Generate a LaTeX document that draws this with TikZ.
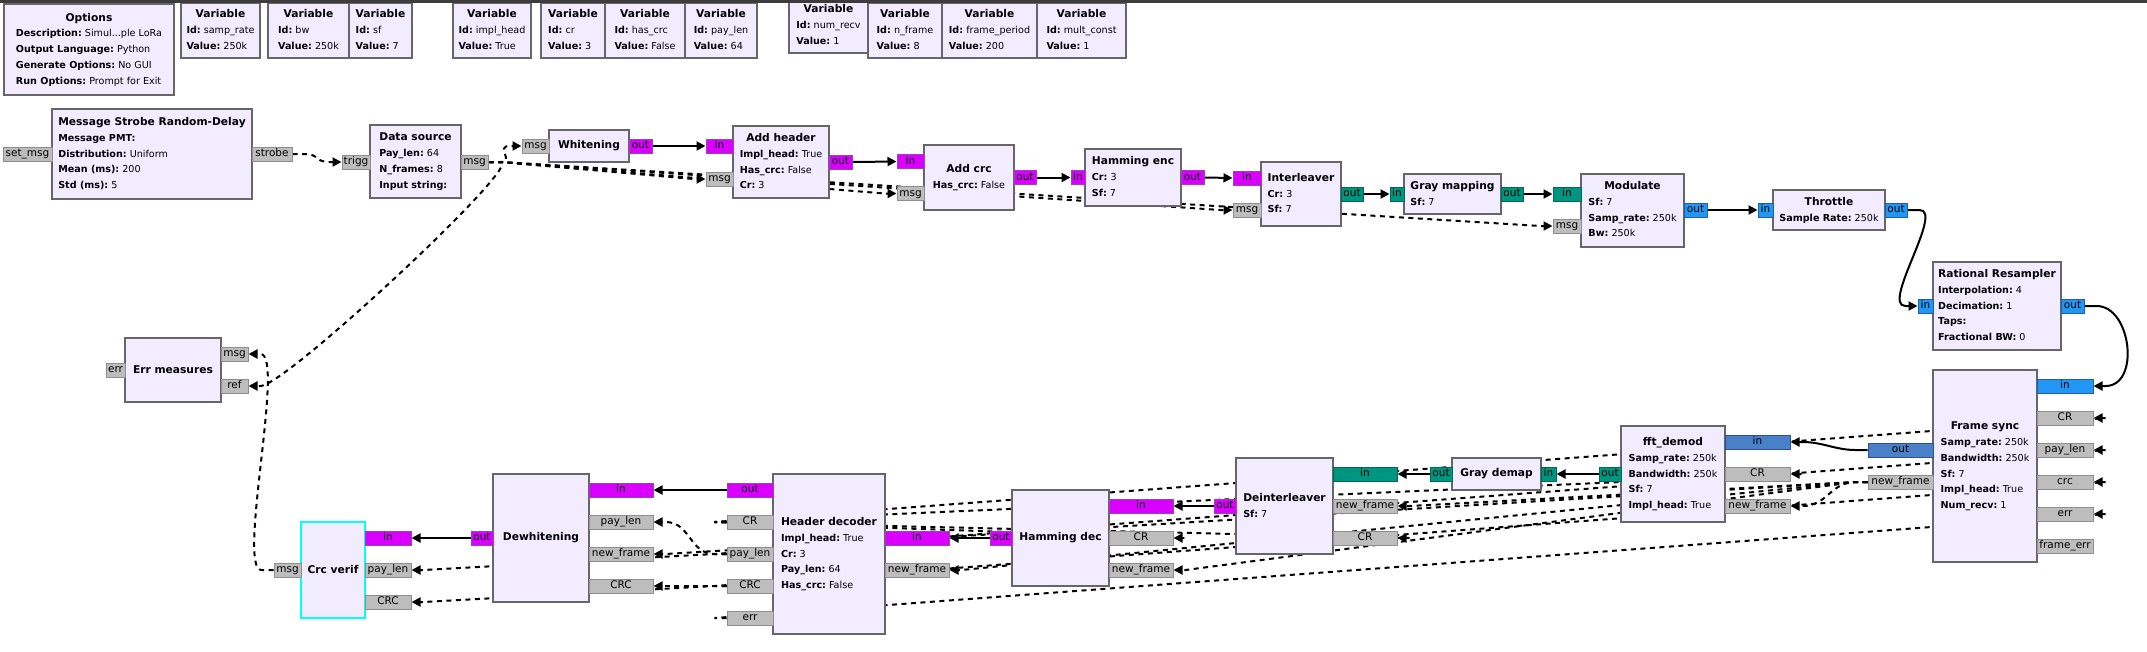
\documentclass[tikz,border=0pt]{standalone}
\usepackage{fontspec}
\setmainfont{DejaVu Sans}
\usetikzlibrary{arrows.meta}
\definecolor{blkfill}{HTML}{F1ECFF}
\definecolor{blkdraw}{HTML}{666666}
\definecolor{selc}{HTML}{00FFFF}
\definecolor{magf}{HTML}{DA00FF}
\definecolor{magd}{HTML}{A040B8}
\definecolor{tealf}{HTML}{00957F}
\definecolor{teald}{HTML}{00695C}
\definecolor{bluef}{HTML}{2196F3}
\definecolor{blued}{HTML}{1E5FA8}
\definecolor{dbluef}{HTML}{4A80C8}
\definecolor{dblued}{HTML}{2A50A0}
\definecolor{grayf}{HTML}{BDBDBD}
\definecolor{grayd}{HTML}{8E8E8E}
\definecolor{topc}{HTML}{3C3C3C}
\pgfdeclarelayer{bg}
\pgfsetlayers{bg,main}
\newcommand\grtl[1]{{\fontsize{10.67}{15.8}\selectfont\bfseries #1}}
\newcommand\grkv[2]{{\bfseries #1:}\ #2}
\newcommand\grlb[2]{\begin{tabular}{@{}l@{}}\multicolumn{1}{@{}c@{}}{\grtl{#1}}#2\end{tabular}}
\tikzset{
  blk/.style={draw=blkdraw, fill=blkfill, line width=2pt, inner sep=0pt, font=\fontsize{9.6}{15.8}\selectfont},
  prt/.style={draw, line width=1pt, inner sep=0pt, minimum height=14pt, text height=7.5pt, text depth=2.2pt, font=\fontsize{10.5}{12}\selectfont},
  pm/.style={prt, fill=magf, draw=magd},
  ptl/.style={prt, fill=tealf, draw=teald},
  pb/.style={prt, fill=bluef, draw=blued},
  pd/.style={prt, fill=dbluef, draw=dblued},
  pg/.style={prt, fill=grayf, draw=grayd},
  sc/.style={line width=2pt, -{Triangle[length=9pt,width=9pt]}},
  mc/.style={sc, dash pattern=on 5pt off 4.5pt},
}
\begin{document}
\begin{tikzpicture}[x=1pt,y=-1pt]
\useasboundingbox (0,0) rectangle (2147,651);
\begin{pgfonlayer}{bg}
\fill[white] (0,0) rectangle (2147,651);
\end{pgfonlayer}

% ---------- top: options and variables ----------
\node[blk, minimum width=170pt, minimum height=91pt] (opt) at (89,49.5) {\grlb{Options}{\\ \grkv{Description}{Simul...ple LoRa}\\ \grkv{Output Language}{Python}\\ \grkv{Generate Options}{No GUI}\\ \grkv{Run Options}{Prompt for Exit}}};
\node[blk, minimum width=79pt, minimum height=55pt] (v1) at (220.5,30.5) {\grlb{Variable}{\\ \grkv{Id}{samp\_rate}\\ \grkv{Value}{250k}}};
\node[blk, minimum width=81pt, minimum height=55pt] (v2) at (308.5,30.5) {\grlb{Variable}{\\ \grkv{Id}{bw}\\ \grkv{Value}{250k}}};
\node[blk, minimum width=63pt, minimum height=55pt] (v3) at (380.5,30.5) {\grlb{Variable}{\\ \grkv{Id}{sf}\\ \grkv{Value}{7}}};
\node[blk, minimum width=78pt, minimum height=55pt] (v4) at (492,30.5) {\grlb{Variable}{\\ \grkv{Id}{impl\_head}\\ \grkv{Value}{True}}};
\node[blk, minimum width=64pt, minimum height=55pt] (v5) at (573,30.5) {\grlb{Variable}{\\ \grkv{Id}{cr}\\ \grkv{Value}{3}}};
\node[blk, minimum width=80pt, minimum height=55pt] (v6) at (645,30.5) {\grlb{Variable}{\\ \grkv{Id}{has\_crc}\\ \grkv{Value}{False}}};
\node[blk, minimum width=72pt, minimum height=55pt] (v7) at (721,30.5) {\grlb{Variable}{\\ \grkv{Id}{pay\_len}\\ \grkv{Value}{64}}};
\node[blk, minimum width=79pt, minimum height=55pt] (v8) at (828.5,25.5) {\grlb{Variable}{\\ \grkv{Id}{num\_recv}\\ \grkv{Value}{1}}};
\node[blk, minimum width=74pt, minimum height=55pt] (v9) at (905,30.5) {\grlb{Variable}{\\ \grkv{Id}{n\_frame}\\ \grkv{Value}{8}}};
\node[blk, minimum width=95pt, minimum height=55pt] (v10) at (989.5,30.5) {\grlb{Variable}{\\ \grkv{Id}{frame\_period}\\ \grkv{Value}{200}}};
\node[blk, minimum width=89pt, minimum height=55pt] (v11) at (1081.5,30.5) {\grlb{Variable}{\\ \grkv{Id}{mult\_const}\\ \grkv{Value}{1}}};

% ---------- top row blocks ----------
\node[blk, minimum width=200pt, minimum height=90pt] (ms) at (152,154) {\grlb{Message Strobe Random-Delay}{\\ \grkv{Message PMT}{}\\ \grkv{Distribution}{Uniform}\\ \grkv{Mean (ms)}{200}\\ \grkv{Std (ms)}{5}}};
\node[blk, minimum width=91pt, minimum height=73pt] (ds) at (415.5,161.5) {\grlb{Data source}{\\ \grkv{Pay\_len}{64}\\ \grkv{N\_frames}{8}\\ \grkv{Input string}{}}};
\node[blk, minimum width=80pt, minimum height=32pt] (wh) at (589,146) {\grtl{Whitening}};
\node[blk, minimum width=96pt, minimum height=72pt] (ah) at (781,162) {\grlb{Add header}{\\ \grkv{Impl\_head}{True}\\ \grkv{Has\_crc}{False}\\ \grkv{Cr}{3}}};
\node[blk, minimum width=90pt, minimum height=65pt] (ac) at (969,177.5) {\grlb{Add crc}{\\ \grkv{Has\_crc}{False}}};
\node[blk, minimum width=96pt, minimum height=57pt] (he) at (1133,177.5) {\grlb{Hamming enc}{\\ \grkv{Cr}{3}\\ \grkv{Sf}{7}}};
\node[blk, minimum width=80pt, minimum height=64pt] (il) at (1301,194) {\grlb{Interleaver}{\\ \grkv{Cr}{3}\\ \grkv{Sf}{7}}};
\node[blk, minimum width=97pt, minimum height=40pt] (gm) at (1452.5,194) {\grlb{Gray mapping}{\\ \grkv{Sf}{7}}};
\node[blk, minimum width=103pt, minimum height=73pt] (mo) at (1632.5,210) {\grlb{Modulate}{\\ \grkv{Sf}{7}\\ \grkv{Samp\_rate}{250k}\\ \grkv{Bw}{250k}}};
\node[blk, minimum width=112pt, minimum height=40pt] (th) at (1829,210) {\grlb{Throttle}{\\ \grkv{Sample Rate}{250k}}};
\node[blk, minimum width=128pt, minimum height=88pt] (rr) at (1997,306) {\grlb{Rational Resampler}{\\ \grkv{Interpolation}{4}\\ \grkv{Decimation}{1}\\ \grkv{Taps}{}\\ \grkv{Fractional BW}{0}}};

% ---------- bottom row blocks ----------
\node[blk, minimum width=104pt, minimum height=192pt] (fs) at (1985,466) {\grlb{Frame sync}{\\ \grkv{Samp\_rate}{250k}\\ \grkv{Bandwidth}{250k}\\ \grkv{Sf}{7}\\ \grkv{Impl\_head}{True}\\ \grkv{Num\_recv}{1}}};
\node[blk, minimum width=104pt, minimum height=96pt] (fd) at (1673,474) {\grlb{fft\_demod}{\\ \grkv{Samp\_rate}{250k}\\ \grkv{Bandwidth}{250k}\\ \grkv{Sf}{7}\\ \grkv{Impl\_head}{True}}};
\node[blk, minimum width=89pt, minimum height=32pt] (gd) at (1496.5,474) {\grtl{Gray demap}};
\node[blk, minimum width=97pt, minimum height=96pt] (di) at (1284.5,506) {\grlb{Deinterleaver}{\\ \grkv{Sf}{7}}};
\node[blk, minimum width=97pt, minimum height=96pt] (hm) at (1060.5,538) {\grtl{Hamming dec}};
\node[blk, minimum width=112pt, minimum height=160pt] (hd) at (829,554) {\grlb{Header decoder}{\\ \grkv{Impl\_head}{True}\\ \grkv{Cr}{3}\\ \grkv{Pay\_len}{64}\\ \grkv{Has\_crc}{False}}};
\node[blk, minimum width=96pt, minimum height=128pt] (dw) at (541,538) {\grtl{Dewhitening}};
\node[blk, draw=selc, minimum width=64pt, minimum height=96pt] (cv) at (333,570) {\grtl{Crc verif}};
\node[blk, minimum width=96pt, minimum height=64pt] (em) at (173,370) {\grtl{Err measures}};

% ---------- top ports ----------
\node[pg, minimum width=49pt] (ms_set) at (27.5,154) {set\_msg};
\node[pg, minimum width=40pt] (ms_str) at (272,154) {strobe};
\node[pg, minimum width=28pt] (ds_trg) at (356,162) {trigg};
\node[pg, minimum width=27pt] (ds_msg) at (474.5,162) {msg};
\node[pg, minimum width=27pt] (wh_msg) at (535.5,146) {msg};
\node[pm, minimum width=23pt] (wh_out) at (640.5,146) {out};
\node[pm, minimum width=27pt] (ah_in) at (719.5,146) {in};
\node[pg, minimum width=27pt] (ah_msg) at (719.5,179) {msg};
\node[pm, minimum width=23pt] (ah_out) at (840.5,162) {out};
\node[pm, minimum width=27pt] (ac_in) at (910.5,161.5) {in};
\node[pg, minimum width=27pt] (ac_msg) at (910.5,193.5) {msg};
\node[pm, minimum width=22pt] (ac_out) at (1025,177.5) {out};
\node[pm, minimum width=14pt] (he_in) at (1078,177.5) {in};
\node[pm, minimum width=23pt] (he_out) at (1192.5,177.5) {out};
\node[pm, minimum width=28pt] (il_in) at (1247,178) {in};
\node[pg, minimum width=28pt] (il_msg) at (1247,210) {msg};
\node[ptl, minimum width=22pt] (il_out) at (1352,194) {out};
\node[ptl, minimum width=14pt] (gm_in) at (1397,194) {in};
\node[ptl, minimum width=22pt] (gm_out) at (1512,194) {out};
\node[ptl, minimum width=28pt] (mo_in) at (1567,194) {in};
\node[pg, minimum width=28pt] (mo_msg) at (1567,226) {msg};
\node[pb, minimum width=23pt] (mo_out) at (1695.5,210) {out};
\node[pb, minimum width=15pt] (th_in) at (1765.5,210) {in};
\node[pb, minimum width=22pt] (th_out) at (1896,210) {out};
\node[pb, minimum width=15pt] (rr_in) at (1925.5,306) {in};
\node[pb, minimum width=23pt] (rr_out) at (2072.5,306) {out};

% ---------- bottom ports ----------
\node[pb, minimum width=56pt] (fs_in) at (2065,386) {in};
\node[pg, minimum width=56pt] (fs_cr) at (2065,418) {CR};
\node[pg, minimum width=56pt] (fs_pl) at (2065,450) {pay\_len};
\node[pg, minimum width=56pt] (fs_crc) at (2065,482) {crc};
\node[pg, minimum width=56pt] (fs_err) at (2065,514) {err};
\node[pg, minimum width=56pt] (fs_fe) at (2065,546) {frame\_err};
\node[pd, minimum width=65pt] (fs_out) at (1900.5,450) {out};
\node[pg, minimum width=65pt] (fs_nf) at (1900.5,482) {new\_frame};
\node[pd, minimum width=65pt] (fd_in) at (1757.5,442) {in};
\node[pg, minimum width=65pt] (fd_cr) at (1757.5,474) {CR};
\node[pg, minimum width=65pt] (fd_nf) at (1757.5,506) {new\_frame};
\node[ptl, minimum width=22pt] (fd_out) at (1610,474) {out};
\node[ptl, minimum width=15pt] (gd_in) at (1548.5,474) {in};
\node[ptl, minimum width=22pt] (gd_out) at (1441,474) {out};
\node[ptl, minimum width=64pt] (di_in) at (1365,474) {in};
\node[pg, minimum width=64pt] (di_nf) at (1365,506) {new\_frame};
\node[pg, minimum width=64pt] (di_cr) at (1365,538) {CR};
\node[pm, minimum width=22pt] (di_out) at (1225,506) {out};
\node[pm, minimum width=64pt] (hm_in) at (1141,506) {in};
\node[pg, minimum width=64pt] (hm_cr) at (1141,538) {CR};
\node[pg, minimum width=64pt] (hm_nf) at (1141,570) {new\_frame};
\node[pm, minimum width=22pt] (hm_out) at (1001,538) {out};
\node[pm, minimum width=64pt] (hd_in) at (917,538) {in};
\node[pg, minimum width=64pt] (hd_nf) at (917,570) {new\_frame};
\node[pm, minimum width=46pt] (hd_out) at (750,490) {out};
\node[pg, minimum width=46pt] (hd_cr) at (750,522) {CR};
\node[pg, minimum width=46pt] (hd_pl) at (750,554) {pay\_len};
\node[pg, minimum width=46pt] (hd_crc) at (750,586) {CRC};
\node[pg, minimum width=46pt] (hd_err) at (750,618) {err};
\node[pm, minimum width=64pt] (dw_in) at (621,490) {in};
\node[pg, minimum width=64pt] (dw_pl) at (621,522) {pay\_len};
\node[pg, minimum width=64pt] (dw_nf) at (621,554) {new\_frame};
\node[pg, minimum width=64pt] (dw_crc) at (621,586) {CRC};
\node[pm, minimum width=22pt] (dw_out) at (482,538) {out};
\node[pm, minimum width=46pt] (cv_in) at (388,538) {in};
\node[pg, minimum width=46pt] (cv_pl) at (388,570) {pay\_len};
\node[pg, minimum width=46pt] (cv_crc) at (388,602) {CRC};
\node[pg, minimum width=27pt] (cv_msg) at (287.5,570) {msg};
\node[pg, minimum width=27pt] (em_msg) at (234.5,354) {msg};
\node[pg, minimum width=27pt] (em_ref) at (234.5,386) {ref};
\node[pg, minimum width=19pt] (em_err) at (115.5,370) {err};

\fill[topc] (0,0) rectangle (2147,3);

% ---------- connections ----------
\begin{pgfonlayer}{bg}
% top, message
\draw[mc] (ms_str.east) -- ++(12,0) .. controls +(15,0) and +(-15,0) .. ([xshift=-12pt]ds_trg.west) -- (ds_trg.west);
\draw[mc] (ds_msg.east) -- ++(12,0) .. controls +(14,0) and +(-14,0) .. ([xshift=-12pt]wh_msg.west) -- (wh_msg.west);
\draw[mc] (ds_msg.east) -- ++(12,0) -- ([xshift=-12pt]ah_msg.west) -- (ah_msg.west);
\draw[mc] (ds_msg.east) -- ++(12,0) -- ([xshift=-12pt]ac_msg.west) -- (ac_msg.west);
\draw[mc] (ds_msg.east) -- ++(12,0) -- ([xshift=-12pt]il_msg.west) -- (il_msg.west);
\draw[mc] (ds_msg.east) -- ++(12,0) -- ([xshift=-12pt]mo_msg.west) -- (mo_msg.west);
\draw[mc] (ds_msg.east) -- ++(12,0) .. controls +(25,0) and +(25,0) .. ([xshift=12pt]em_ref.east) -- (em_ref.east);
\draw[mc] (cv_msg.west) -- ++(-12,0) .. controls +(-25,0) and +(25,0) .. ([xshift=12pt]em_msg.east) -- (em_msg.east);
% top, stream
\draw[sc] (wh_out.east) -- (ah_in.west);
\draw[sc] (ah_out.east) -- (ac_in.west);
\draw[sc] (ac_out.east) -- (he_in.west);
\draw[sc] (he_out.east) -- (il_in.west);
\draw[sc] (il_out.east) -- (gm_in.west);
\draw[sc] (gm_out.east) -- (mo_in.west);
\draw[sc] (mo_out.east) -- (th_in.west);
\draw[sc] (th_out.east) -- ++(12,0) .. controls +(25,0) and +(-25,0) .. ([xshift=-12pt]rr_in.west) -- (rr_in.west);
\draw[sc] (rr_out.east) -- ++(12,0) .. controls +(35,0) and +(35,0) .. ([xshift=12pt]fs_in.east) -- (fs_in.east);
% bottom, stream
\draw[sc] (fs_out.west) -- ++(-12,0) .. controls +(-20,0) and +(20,0) .. ([xshift=12pt]fd_in.east) -- (fd_in.east);
\draw[sc] (fd_out.west) -- (gd_in.east);
\draw[sc] (gd_out.west) -- (di_in.east);
\draw[sc] (di_out.west) -- (hm_in.east);
\draw[sc] (hm_out.west) -- (hd_in.east);
\draw[sc] (hd_out.west) -- (dw_in.east);
\draw[sc] (dw_out.west) -- (cv_in.east);
% bottom, message
\draw[mc] (hd_cr.west) -- ++(-12,0) -- ([xshift=12pt]fs_cr.east) -- (fs_cr.east);
\draw[mc] (hd_cr.west) -- ++(-12,0) -- ([xshift=12pt]fd_cr.east) -- (fd_cr.east);
\draw[mc] (hd_cr.west) -- ++(-12,0) -- ([xshift=12pt]di_cr.east) -- (di_cr.east);
\draw[mc] (hd_cr.west) -- ++(-12,0) -- ([xshift=12pt]hm_cr.east) -- (hm_cr.east);
\draw[mc] (hd_pl.west) -- ++(-12,0) -- ([xshift=12pt]fs_pl.east) -- (fs_pl.east);
\draw[mc] (hd_pl.west) -- ++(-12,0) .. controls +(-25,0) and +(25,0) .. ([xshift=12pt]dw_pl.east) -- (dw_pl.east);
\draw[mc] (hd_pl.west) -- ++(-12,0) -- ([xshift=12pt]cv_pl.east) -- (cv_pl.east);
\draw[mc] (hd_crc.west) -- ++(-12,0) -- ([xshift=12pt]fs_crc.east) -- (fs_crc.east);
\draw[mc] (hd_crc.west) -- ++(-12,0) -- ([xshift=12pt]dw_crc.east) -- (dw_crc.east);
\draw[mc] (hd_crc.west) -- ++(-12,0) -- ([xshift=12pt]cv_crc.east) -- (cv_crc.east);
\draw[mc] (hd_err.west) -- ++(-12,0) -- ([xshift=12pt]fs_err.east) -- (fs_err.east);
\draw[mc] (fs_nf.west) -- ++(-12,0) .. controls +(-25,0) and +(25,0) .. ([xshift=12pt]fd_nf.east) -- (fd_nf.east);
\draw[mc] (fs_nf.west) -- ++(-12,0) -- ([xshift=12pt]di_nf.east) -- (di_nf.east);
\draw[mc] (fs_nf.west) -- ++(-12,0) -- ([xshift=12pt]hm_nf.east) -- (hm_nf.east);
\draw[mc] (fs_nf.west) -- ++(-12,0) -- ([xshift=12pt]hd_nf.east) -- (hd_nf.east);
\draw[mc] (fs_nf.west) -- ++(-12,0) -- ([xshift=12pt]dw_nf.east) -- (dw_nf.east);
\end{pgfonlayer}
\end{tikzpicture}
\end{document}
